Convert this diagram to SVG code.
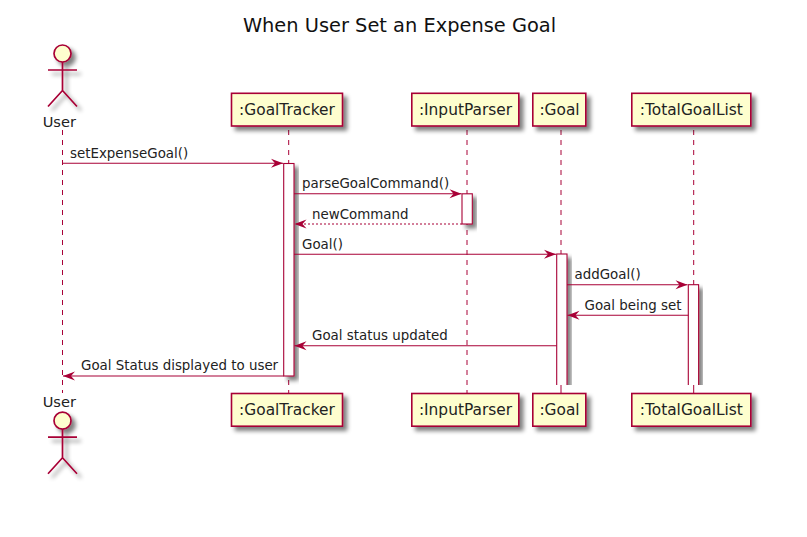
<svg xmlns="http://www.w3.org/2000/svg" width="807" height="537" viewBox="0 0 807 537">
<style>
text{font-family:"DejaVu Sans",sans-serif;font-size:13.4px;fill:#222}
.title{font-size:19.400px;text-anchor:middle;fill:#111}
.box{fill:#FEFECE;stroke:#A80036;stroke-width:1.6}
.nm{font-size:15.400px;text-anchor:middle}
.act-name{font-size:14.600px;text-anchor:middle}
.life{stroke:#A80036;stroke-width:1;stroke-dasharray:5 5;fill:none}
.act{fill:#fff;stroke:#A80036;stroke-width:1.100}
.ln{stroke:#A80036;stroke-width:1.100;fill:none}
.dash{stroke-dasharray:2 2}
.actor{fill:none;stroke:#A80036;stroke-width:1.700}
.head{fill:#FEFECE;stroke:#A80036;stroke-width:1.700}
</style>
<defs>
<filter id="sh" x="-30%" y="-30%" width="170%" height="170%">
<feGaussianBlur in="SourceAlpha" stdDeviation="2"/>
<feOffset dx="4" dy="4"/>
<feComponentTransfer><feFuncA type="linear" slope="0.5"/></feComponentTransfer>
<feMerge><feMergeNode/><feMergeNode in="SourceGraphic"/></feMerge>
</filter>
<marker id="ah" markerUnits="userSpaceOnUse" markerWidth="14" markerHeight="12" refX="13" refY="6" orient="auto">
<path d="M1 1.500 L13 6 L1 10.500 L5 6 Z" fill="#A80036"/>
</marker>
<g id="actorShape">
<circle class="head" cx="0" cy="0" r="8.500"/>
<path class="actor" d="M0 8.500V37M-14.500 16.500H14.500M0 37L-14.500 53M0 37L14.500 53"/>
</g>
<clipPath id="cut"><rect x="540" y="240" width="180" height="145"/></clipPath>
</defs>
<rect width="807" height="537" fill="#fff"/>
<text class="title" x="399.500" y="32">When User Set an Expense Goal</text>

<g id="lifelines">
<path class="life" d="M62.500 130V393"/>
<path class="life" d="M288.700 130V393"/>
<path class="life" d="M467 130V393"/>
<path class="life" d="M561 130V393"/>
<path class="life" d="M693.700 130V393"/>
</g>

<g id="activations">
<rect class="act" x="283.700" y="163.500" width="10.300" height="212.500" filter="url(#sh)"/>
<rect class="act" x="462" y="193.800" width="10.300" height="30.200" filter="url(#sh)"/>
<g clip-path="url(#cut)">
<rect class="act" x="556.700" y="254" width="10.300" height="160" filter="url(#sh)"/>
<rect class="act" x="688.300" y="284.700" width="10.300" height="130" filter="url(#sh)"/>
</g>
<path class="life" d="M561 385V393M693.700 385V393"/>
</g>

<g id="connectors">
<path class="ln" d="M62.500 163.300H283" marker-end="url(#ah)"/>
<path class="ln" d="M294 193.800H461.500" marker-end="url(#ah)"/>
<path class="ln dash" d="M462 224H294.500" marker-end="url(#ah)"/>
<path class="ln" d="M294 254.300H556" marker-end="url(#ah)"/>
<path class="ln" d="M567 284.700H687.500" marker-end="url(#ah)"/>
<path class="ln" d="M688.300 315.300H567.500" marker-end="url(#ah)"/>
<path class="ln" d="M556.700 345.800H294.500" marker-end="url(#ah)"/>
<path class="ln" d="M283.700 376H63" marker-end="url(#ah)"/>
</g>

<g id="labels">
<text x="70" y="158">setExpenseGoal()</text>
<text x="302" y="188">parseGoalCommand()</text>
<text x="312" y="219">newCommand</text>
<text x="302" y="249">Goal()</text>
<text x="574.500" y="279">addGoal()</text>
<text x="584.500" y="310">Goal being set</text>
<text x="312" y="340">Goal status updated</text>
<text x="81" y="370">Goal Status displayed to user</text>
</g>

<g id="actor-user-top">
<use href="#actorShape" x="62.500" y="53.500" filter="url(#sh)"/>
<text class="act-name" x="59.300" y="127">User</text>
</g>
<g id="actor-user-bottom">
<text class="act-name" x="59.300" y="407">User</text>
<use href="#actorShape" x="62.500" y="420.700" filter="url(#sh)"/>
</g>

<g id="goaltracker-top"><rect class="box" x="231.500" y="93.300" width="111" height="32.700" filter="url(#sh)"/><text class="nm" x="287" y="115">:GoalTracker</text></g>
<g id="inputparser-top"><rect class="box" x="411.800" y="93.300" width="107" height="32.700" filter="url(#sh)"/><text class="nm" x="465.500" y="115">:InputParser</text></g>
<g id="goal-top"><rect class="box" x="532.800" y="93.300" width="53" height="32.700" filter="url(#sh)"/><text class="nm" x="559.500" y="115">:Goal</text></g>
<g id="totalgoallist-top"><rect class="box" x="631.800" y="93.300" width="119" height="32.700" filter="url(#sh)"/><text class="nm" x="691.300" y="115">:TotalGoalList</text></g>

<g id="goaltracker-bottom"><rect class="box" x="231.500" y="393.500" width="111" height="32.700" filter="url(#sh)"/><text class="nm" x="287" y="414.500">:GoalTracker</text></g>
<g id="inputparser-bottom"><rect class="box" x="411.800" y="393.500" width="107" height="32.700" filter="url(#sh)"/><text class="nm" x="465.500" y="414.500">:InputParser</text></g>
<g id="goal-bottom"><rect class="box" x="532.800" y="393.500" width="53" height="32.700" filter="url(#sh)"/><text class="nm" x="559.500" y="414.500">:Goal</text></g>
<g id="totalgoallist-bottom"><rect class="box" x="631.800" y="393.500" width="119" height="32.700" filter="url(#sh)"/><text class="nm" x="691.300" y="414.500">:TotalGoalList</text></g>
</svg>
